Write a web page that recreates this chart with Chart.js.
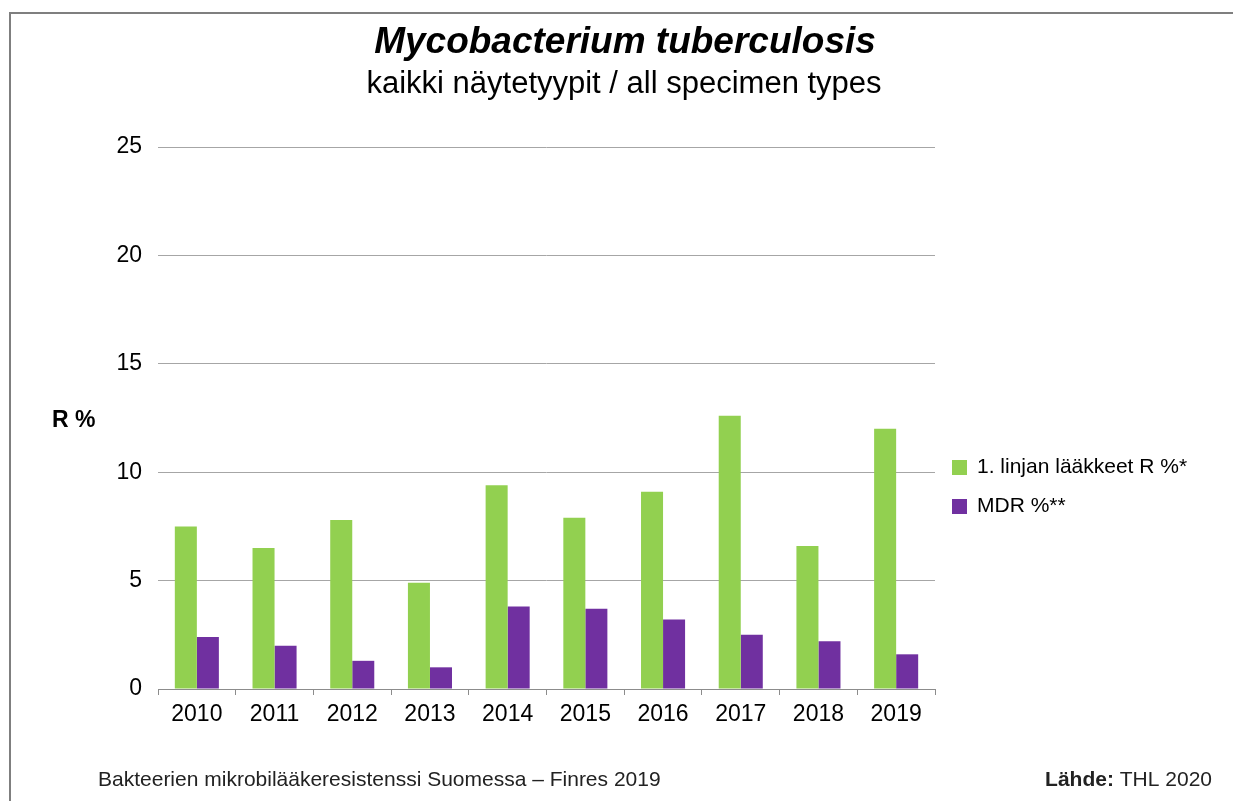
<!DOCTYPE html>
<html>
<head>
<meta charset="utf-8">
<script src="https://cdn.jsdelivr.net/npm/chart.js@4.4.1/dist/chart.umd.min.js"></script>
<style>
    html, body { margin: 0; padding: 0; background: #ffffff; }
    #wrap { width: 1233px; height: 801px; position: relative; }
</style>
</head>
<body>
<div id="wrap"><canvas id="tbChart" width="1233" height="801"></canvas></div>
<script>
const years = ['2010', '2011', '2012', '2013', '2014', '2015', '2016', '2017', '2018', '2019'];
const firstLineR = [7.5, 6.5, 7.8, 4.9, 9.4, 7.9, 9.1, 12.6, 6.6, 12.0];
const mdrR = [2.4, 2.0, 1.3, 1.0, 3.8, 3.7, 3.2, 2.5, 2.2, 1.6];
const seriesLabels = ['1. linjan lääkkeet R %*', 'MDR %**'];
const seriesColors = ['#92d050', '#7030a0'];

const FONT = '"Liberation Sans", Arial, sans-serif';

// Frame, titles, axis label, legend and footer drawn on the canvas
const decorPlugin = {
    id: 'decor',
    beforeDraw(chart) {
        const ctx = chart.ctx;
        ctx.save();
        ctx.fillStyle = '#ffffff';
        ctx.fillRect(0, 0, chart.width, chart.height);
        ctx.strokeStyle = '#7f7f7f';
        ctx.lineWidth = 2;
        ctx.beginPath();
        ctx.moveTo(10, chart.height);
        ctx.lineTo(10, 13);
        ctx.lineTo(chart.width, 13);
        ctx.stroke();
        ctx.restore();
    },
    afterDraw(chart) {
        const ctx = chart.ctx;
        ctx.save();
        ctx.fillStyle = '#000000';
        ctx.textAlign = 'center';
        ctx.textBaseline = 'middle';
        ctx.font = 'italic bold 37px ' + FONT;
        ctx.fillText('Mycobacterium tuberculosis', 625, 43);
        ctx.font = '31px ' + FONT;
        ctx.fillText('kaikki näytetyypit / all specimen types', 624, 84);

        ctx.textAlign = 'left';
        ctx.font = 'bold 23px ' + FONT;
        ctx.fillText('R %', 52, 421);

        // legend
        ctx.font = '21px ' + FONT;
        chart.data.datasets.forEach((ds, i) => {
            const y = 467 + i * 39;
            ctx.fillStyle = ds.backgroundColor;
            ctx.fillRect(952, y - 7, 15, 15);
            ctx.fillStyle = '#000000';
            ctx.fillText(ds.label, 977, y);
        });

        // footer
        ctx.fillStyle = '#222222';
        ctx.font = '21px ' + FONT;
        ctx.fillText('Bakteerien mikrobilääkeresistenssi Suomessa – Finres 2019', 98, 780);
        ctx.textAlign = 'right';
        ctx.fillText('THL 2020', 1212, 780);
        const w = ctx.measureText(' THL 2020').width;
        ctx.font = 'bold 21px ' + FONT;
        ctx.fillText('Lähde:', 1212 - w, 780);
        ctx.restore();
    }
};

new Chart(document.getElementById('tbChart').getContext('2d'), {
    type: 'bar',
    data: {
        labels: years,
        datasets: [
            { label: seriesLabels[0], data: firstLineR, backgroundColor: seriesColors[0] },
            { label: seriesLabels[1], data: mdrR, backgroundColor: seriesColors[1] }
        ]
    },
    options: {
        responsive: false,
        animation: false,
        devicePixelRatio: 1,
        layout: { padding: { left: 0, right: 298, top: 147, bottom: 72 } },
        categoryPercentage: 0.567,
        barPercentage: 1.0,
        plugins: {
            legend: { display: false },
            tooltip: { enabled: false },
            title: { display: false }
        },
        scales: {
            x: {
                grid: {
                    display: true,
                    offset: true,
                    drawOnChartArea: false,
                    tickLength: 6,
                    color: '#8c8c8c'
                },
                border: { display: true, color: '#8c8c8c', width: 1 },
                ticks: { color: '#000000', font: { family: FONT, size: 23 }, padding: 6 },
                afterFit(scale) { scale.height = 40; }
            },
            y: {
                min: 0,
                max: 25,
                ticks: { stepSize: 5, color: '#000000', font: { family: FONT, size: 23 }, padding: 16 },
                grid: { color: '#a6a6a6', drawTicks: false },
                border: { display: false },
                afterFit(scale) { scale.width = 158; }
            }
        }
    },
    plugins: [decorPlugin]
});
</script>
</body>
</html>
